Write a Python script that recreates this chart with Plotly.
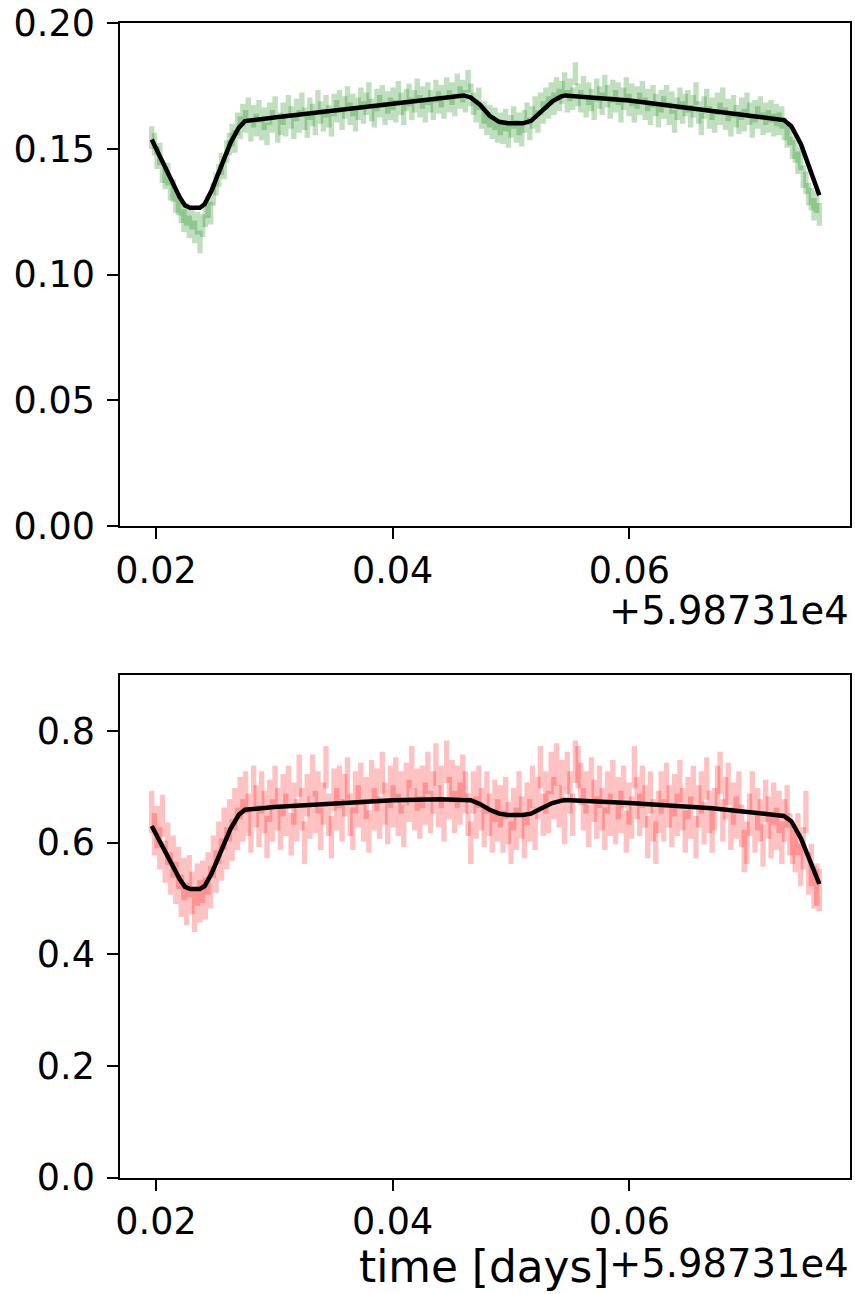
import numpy as np
import plotly.graph_objects as go

# ---------------- data (time offsets from 5.98731e4 days) ----------------
T_START = 0.01964
T_END = 0.07606

green_flux = [
    0.1545, 0.1520, 0.1465, 0.1480, 0.1410, 0.1385, 0.1400, 0.1340, 0.1335, 0.1290,
    0.1280, 0.1250, 0.1215, 0.1240, 0.1190, 0.1225, 0.1170, 0.1205, 0.1130, 0.1195,
    0.1235, 0.1270, 0.1245, 0.1320, 0.1360, 0.1395, 0.1440, 0.1425, 0.1490, 0.1520,
    0.1555, 0.1530, 0.1600, 0.1585, 0.1635, 0.1610, 0.1660, 0.1575, 0.1630, 0.1595,
    0.1650, 0.1580, 0.1620, 0.1560, 0.1640, 0.1610, 0.1665, 0.1570, 0.1600, 0.1640,
    0.1595, 0.1670, 0.1625, 0.1585, 0.1655, 0.1610, 0.1680, 0.1620, 0.1590, 0.1660,
    0.1635, 0.1600, 0.1690, 0.1645, 0.1615, 0.1670, 0.1630, 0.1595, 0.1675, 0.1650,
    0.1690, 0.1620, 0.1665, 0.1705, 0.1640, 0.1675, 0.1615, 0.1660, 0.1700, 0.1645,
    0.1680, 0.1720, 0.1655, 0.1630, 0.1695, 0.1670, 0.1710, 0.1640, 0.1685, 0.1660,
    0.1700, 0.1650, 0.1725, 0.1680, 0.1640, 0.1695, 0.1715, 0.1660, 0.1690, 0.1735,
    0.1670, 0.1705, 0.1650, 0.1720, 0.1690, 0.1660, 0.1730, 0.1685, 0.1710, 0.1665,
    0.1740, 0.1690, 0.1720, 0.1675, 0.1755, 0.1705, 0.1730, 0.1690, 0.1770, 0.1715,
    0.1680, 0.1650, 0.1700, 0.1625, 0.1645, 0.1600, 0.1630, 0.1585, 0.1620, 0.1570,
    0.1600, 0.1565, 0.1615, 0.1550, 0.1590, 0.1625, 0.1570, 0.1600, 0.1555, 0.1610,
    0.1640, 0.1580, 0.1625, 0.1665, 0.1610, 0.1680, 0.1645, 0.1700, 0.1665, 0.1720,
    0.1680, 0.1740, 0.1695, 0.1725, 0.1760, 0.1690, 0.1735, 0.1700, 0.1800, 0.1715,
    0.1690, 0.1745, 0.1670, 0.1720, 0.1695, 0.1660, 0.1735, 0.1705, 0.1680, 0.1750,
    0.1710, 0.1665, 0.1730, 0.1690, 0.1720, 0.1650, 0.1700, 0.1740, 0.1675, 0.1715,
    0.1650, 0.1705, 0.1680, 0.1725, 0.1660, 0.1695, 0.1640, 0.1710, 0.1675, 0.1630,
    0.1690, 0.1665, 0.1710, 0.1640, 0.1685, 0.1610, 0.1660, 0.1700, 0.1645, 0.1675,
    0.1690, 0.1630, 0.1670, 0.1720, 0.1645, 0.1600, 0.1665, 0.1695, 0.1625, 0.1660,
    0.1610, 0.1680, 0.1640, 0.1700, 0.1620, 0.1655, 0.1595, 0.1670, 0.1630, 0.1605,
    0.1660, 0.1615, 0.1680, 0.1640, 0.1590, 0.1650, 0.1625, 0.1665, 0.1600, 0.1640,
    0.1610, 0.1650, 0.1595, 0.1635, 0.1600, 0.1625, 0.1580, 0.1550, 0.1560, 0.1505,
    0.1490, 0.1445, 0.1460, 0.1390, 0.1365, 0.1320, 0.1300, 0.1260, 0.1290, 0.1240,
]

red_flux = [
    0.655, 0.615, 0.628, 0.590, 0.648, 0.566, 0.598, 0.545, 0.575, 0.528,
    0.555, 0.505, 0.535, 0.490, 0.540, 0.510, 0.478, 0.525, 0.495, 0.530,
    0.500, 0.545, 0.520, 0.575, 0.548, 0.600, 0.570, 0.625, 0.590, 0.640,
    0.605, 0.660, 0.625, 0.680, 0.640, 0.690, 0.650, 0.620, 0.700, 0.665,
    0.630, 0.690, 0.655, 0.610, 0.675, 0.640, 0.700, 0.660, 0.625, 0.685,
    0.650, 0.700, 0.615, 0.670, 0.640, 0.720, 0.660, 0.600, 0.685, 0.645,
    0.720, 0.655, 0.690, 0.625, 0.670, 0.735, 0.650, 0.610, 0.695, 0.660,
    0.700, 0.640, 0.685, 0.715, 0.650, 0.625, 0.690, 0.665, 0.705, 0.640,
    0.680, 0.620, 0.710, 0.660, 0.695, 0.645, 0.725, 0.670, 0.635, 0.700,
    0.665, 0.715, 0.650, 0.690, 0.630, 0.705, 0.675, 0.735, 0.660, 0.695,
    0.645, 0.700, 0.670, 0.725, 0.655, 0.690, 0.740, 0.665, 0.700, 0.640,
    0.745, 0.680, 0.710, 0.655, 0.700, 0.670, 0.720, 0.690, 0.650, 0.600,
    0.690, 0.645, 0.700, 0.660, 0.630, 0.690, 0.650, 0.620, 0.675, 0.640,
    0.665, 0.620, 0.680, 0.635, 0.600, 0.660, 0.625, 0.690, 0.645, 0.610,
    0.670, 0.640, 0.700, 0.625, 0.680, 0.735, 0.650, 0.690, 0.655, 0.725,
    0.680, 0.740, 0.665, 0.710, 0.635, 0.725, 0.690, 0.650, 0.745, 0.735,
    0.705, 0.660, 0.690, 0.630, 0.715, 0.675, 0.645, 0.700, 0.660, 0.625,
    0.690, 0.650, 0.710, 0.635, 0.680, 0.655, 0.700, 0.620, 0.670, 0.645,
    0.735, 0.680, 0.650, 0.700, 0.665, 0.610, 0.690, 0.640, 0.600, 0.655,
    0.690, 0.640, 0.705, 0.665, 0.630, 0.685, 0.650, 0.710, 0.660, 0.620,
    0.680, 0.645, 0.700, 0.610, 0.665, 0.690, 0.635, 0.715, 0.655, 0.620,
    0.660, 0.700, 0.725, 0.640, 0.680, 0.705, 0.625, 0.670, 0.645, 0.690,
    0.630, 0.585, 0.600, 0.650, 0.690, 0.620, 0.660, 0.640, 0.595, 0.675,
    0.645, 0.610, 0.670, 0.625, 0.655, 0.600, 0.640, 0.665, 0.615, 0.600,
    0.585, 0.615, 0.560, 0.590, 0.655, 0.545, 0.560, 0.520, 0.525, 0.515,
]

green_err = 0.0045
red_err = 0.038

green_model_t = [0.01964, 0.0205, 0.0213, 0.0220, 0.02245, 0.0229, 0.0237, 0.0241,
                 0.0247, 0.0255, 0.0263, 0.0270, 0.02752, 0.0300, 0.0350, 0.0400,
                 0.0440, 0.0460, 0.0466, 0.0474, 0.0482, 0.0490, 0.04975, 0.0510,
                 0.0517, 0.0525, 0.0535, 0.0542, 0.05456, 0.0600, 0.0650, 0.0700,
                 0.07307, 0.0737, 0.0745, 0.0753, 0.07606]
green_model_f = [0.1538, 0.1455, 0.1370, 0.1308, 0.1275, 0.1266, 0.1266, 0.1280,
                 0.1335, 0.1430, 0.1525, 0.1585, 0.1611, 0.1625, 0.1652, 0.1680,
                 0.1700, 0.1713, 0.1705, 0.1675, 0.1632, 0.1608, 0.1602, 0.1602,
                 0.1612, 0.1648, 0.1690, 0.1708, 0.1713, 0.1693, 0.1665, 0.1633,
                 0.1615, 0.1590, 0.1520, 0.1420, 0.1316]

red_model_t = [0.01964, 0.0205, 0.0213, 0.0220, 0.02245, 0.0229, 0.0237, 0.0241,
               0.0247, 0.0255, 0.0263, 0.0270, 0.02752, 0.0300, 0.0350, 0.0400,
               0.0440, 0.0460, 0.0466, 0.0474, 0.0482, 0.0490, 0.04975, 0.0510,
               0.0517, 0.0525, 0.0535, 0.0542, 0.05456, 0.0600, 0.0615, 0.0670,
               0.07307, 0.0737, 0.0745, 0.0753, 0.07606]
red_model_f = [0.630, 0.595, 0.560, 0.535, 0.521, 0.517, 0.517, 0.522,
               0.545, 0.585, 0.625, 0.650, 0.659, 0.664, 0.671, 0.676,
               0.678, 0.678, 0.676, 0.669, 0.659, 0.652, 0.6497, 0.6497,
               0.652, 0.661, 0.671, 0.675, 0.6765, 0.671, 0.669, 0.6616,
               0.648, 0.638, 0.608, 0.568, 0.526]

x_ticks = [0.02, 0.04, 0.06]
x_tick_text = ["0.02", "0.04", "0.06"]
y1_ticks = [0.00, 0.05, 0.10, 0.15, 0.20]
y1_tick_text = ["0.00", "0.05", "0.10", "0.15", "0.20"]
y2_ticks = [0.0, 0.2, 0.4, 0.6, 0.8]
y2_tick_text = ["0.0", "0.2", "0.4", "0.6", "0.8"]
offset_text = "+5.98731e4"
x_label = "time [days]"

# ---------------- figure ----------------
W, H = 855, 1294
FONT = "DejaVu Sans"
FS = 36.5
FS_OFFSET = 38.5
FS_LABEL = 43.8


def fx(p):
    return p / W


def fy(p):
    return 1 - p / H


time = np.linspace(T_START, T_END, len(green_flux))

fig = go.Figure()

fig.add_trace(go.Scatter(
    x=time, y=green_flux, mode="markers", xaxis="x", yaxis="y",
    marker=dict(size=1, color="rgba(0,0,0,0)"),
    error_y=dict(type="constant", value=green_err, color="rgba(0,128,0,0.25)",
                 thickness=5.4, width=0),
    showlegend=False, hoverinfo="skip"))
fig.add_trace(go.Scatter(
    x=green_model_t, y=green_model_f, mode="lines", xaxis="x", yaxis="y",
    line=dict(color="black", width=4.5), showlegend=False))

fig.add_trace(go.Scatter(
    x=time, y=red_flux, mode="markers", xaxis="x2", yaxis="y2",
    marker=dict(size=1, color="rgba(0,0,0,0)"),
    error_y=dict(type="constant", value=red_err, color="rgba(255,0,0,0.24)",
                 thickness=5.4, width=0),
    showlegend=False, hoverinfo="skip"))
fig.add_trace(go.Scatter(
    x=red_model_t, y=red_model_f, mode="lines", xaxis="x2", yaxis="y2",
    line=dict(color="black", width=4.5), showlegend=False))

axis_common = dict(
    showline=True, mirror=True, linecolor="black", linewidth=2.4,
    ticks="outside", ticklen=10.6, tickwidth=2.4, tickcolor="black",
    showgrid=False, zeroline=False, automargin=False,
    tickfont=dict(family=FONT, size=FS, color="black"),
)

XR = [0.016958, 0.078651]
fig.update_layout(
    template="none",
    width=W, height=H,
    margin=dict(l=0, r=0, t=0, b=0, pad=0),
    paper_bgcolor="white", plot_bgcolor="white",
    xaxis=dict(domain=[fx(120), fx(850)], anchor="y", range=XR,
               tickvals=x_ticks, ticktext=x_tick_text, **axis_common),
    yaxis=dict(domain=[fy(526), fy(23.3)], anchor="x", range=[0, 0.2],
               tickvals=y1_ticks, ticktext=y1_tick_text, ticklabelstandoff=5,
               **axis_common),
    xaxis2=dict(domain=[fx(120), fx(850)], anchor="y2", range=XR,
                tickvals=x_ticks, ticktext=x_tick_text, **axis_common),
    yaxis2=dict(domain=[fy(1177.7), fy(675.2)], anchor="x2", range=[0, 0.9],
                tickvals=y2_ticks, ticktext=y2_tick_text, ticklabelstandoff=5,
                **axis_common),
    annotations=[
        dict(text=offset_text, xref="paper", yref="paper", x=fx(851), y=fy(611),
             xanchor="right", yanchor="middle", showarrow=False,
             font=dict(family=FONT, size=FS_OFFSET, color="black")),
        dict(text=offset_text, xref="paper", yref="paper", x=fx(851), y=fy(1263),
             xanchor="right", yanchor="middle", showarrow=False,
             font=dict(family=FONT, size=FS_OFFSET, color="black")),
        dict(text=x_label, xref="paper", yref="paper", x=fx(484), y=fy(1266),
             xanchor="center", yanchor="middle", showarrow=False,
             font=dict(family=FONT, size=FS_LABEL, color="black")),
    ],
)

fig.write_html("out.html")
